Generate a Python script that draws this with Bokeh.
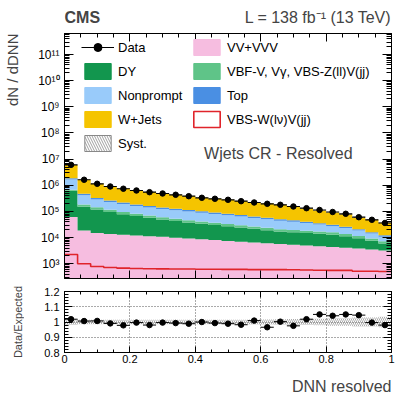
import numpy as np
from bokeh.plotting import figure
from bokeh.layouts import column, row
from bokeh.models import (FixedTicker, LinearAxis, LogAxis, Label, Legend, LegendItem,
                          CustomJSTickFormatter, Range1d)
from bokeh.embed import file_html
from bokeh.resources import INLINE

FONT = "Liberation Sans"

# ---------------- data ----------------
bin_edges = [0.00, 0.04, 0.08, 0.12, 0.16, 0.20, 0.24, 0.28, 0.32, 0.36, 0.40, 0.44, 0.48,
             0.52, 0.56, 0.60, 0.64, 0.68, 0.72, 0.76, 0.80, 0.84, 0.88, 0.92, 0.96, 1.00]

data = [6.05e6, 1.63e6, 1.143e6, 901500, 7.4e5, 634000, 545800, 486400, 434500, 383700,
        333400, 305500, 279500, 247200, 220300, 196700, 179900, 154900, 133400, 114000,
        95500, 81500, 60400, 48080, 36300]

vv_vvv = [61500, 18750, 15000, 13800, 12850, 12100, 11350, 10700, 9950, 9270, 8640, 8050,
          7500, 7000, 6500, 6100, 5700, 5300, 5000, 4700, 4400, 4100, 3850, 3500, 3200]
dy = [555500, 132300, 104100, 80900, 65200, 54500, 45900, 38700, 32950, 28700, 25200, 22100,
      19600, 17400, 15300, 13200, 11350, 10700, 10000, 9300, 8600, 7100, 5600, 4050, 2750]
vbf_v = [58000, 33900, 26700, 21300, 17500, 15000, 12900, 11050, 9600, 8500, 7600, 6750,
         6100, 5500, 4900, 4300, 3800, 3600, 3400, 3150, 2950, 2500, 2100, 1700, 1350]
nonprompt = [1008000, 231000, 141300, 114400, 97700, 80400, 71700, 64000, 58400, 53400, 48400,
             43250, 38250, 34400, 29700, 26700, 23600, 20500, 17500, 14500, 11500, 9500, 7000,
             5000, 3500]
top = [188000, 58000, 40400, 32700, 27100, 23000, 20000, 17500, 15600, 14200, 12700, 11250,
       10050, 9000, 7900, 7100, 6250, 5600, 4800, 4050, 3300, 2800, 2200, 1770, 1400]
wjets = [4070000, 1146000, 807500, 646700, 536300, 451600, 395100, 346400, 311100, 274000,
         230900, 216300, 201100, 178400, 154000, 146300, 128800, 113200, 90300, 72900, 61000,
         51650, 37050, 32250, 24850]
vbs_w = [2270, 1000, 790, 720, 680, 660, 650, 640, 630, 630, 620, 620, 610, 610, 600, 600,
         600, 590, 580, 570, 560, 560, 520, 520, 510]

syst_rel = [0.020, 0.015, 0.015, 0.015, 0.015, 0.015, 0.015, 0.015, 0.015, 0.015, 0.015, 0.015,
            0.015, 0.015, 0.017, 0.017, 0.018, 0.020, 0.020, 0.022, 0.025, 0.025, 0.030, 0.030,
            0.035]
ratio_err = [0.003, 0.003, 0.003, 0.003, 0.004, 0.004, 0.004, 0.004, 0.004, 0.005, 0.005, 0.005,
             0.005, 0.005, 0.006, 0.006, 0.006, 0.007, 0.008, 0.009, 0.010, 0.011, 0.012, 0.014,
             0.016]

x_major = [0.0, 0.2, 0.4, 0.6, 0.8, 1.0]
x_minor = [0.05, 0.10, 0.15, 0.25, 0.30, 0.35, 0.45, 0.50, 0.55, 0.65, 0.70, 0.75, 0.85, 0.90, 0.95]
y_exponents = [2, 3, 4, 5, 6, 7, 8, 9, 10, 11, 12]
r_major = [0.8, 0.9, 1.0, 1.1, 1.2]
r_minor = [0.82, 0.84, 0.86, 0.88, 0.92, 0.94, 0.96, 0.98, 1.02, 1.04, 1.06, 1.08,
           1.12, 1.14, 1.16, 1.18]

C_VV, C_DY, C_VBF, C_NP, C_TOP, C_WJ, C_SIG = ("#f6bde0", "#12964e", "#5fc488", "#99cbfa",
                                               "#4a8fe3", "#f5c400", "#e0242b")
# stack order (bottom -> top)
stack = [(vv_vvv, C_VV), (dy, C_DY), (vbf_v, C_VBF), (nonprompt, C_NP), (top, C_TOP), (wjets, C_WJ)]

left = bin_edges[:-1]
right = bin_edges[1:]
centers = [(a + b) / 2 for a, b in zip(left, right)]
nb = len(centers)

Y0, Y1 = 274, 6.35e11


def blank_fig(w, h, xr, yr):
    f = figure(width=w, height=h, x_range=Range1d(*xr), y_range=Range1d(*yr),
               min_border=0, toolbar_location=None, output_backend="svg",
               x_axis_location=None, y_axis_location=None)
    f.outline_line_color = None
    f.grid.visible = False
    f.background_fill_color = "white"
    f.border_fill_color = "white"
    return f


# ---------------- page-level text panels (frames aligned with the plot frames: x 64..391 px) ----
header = blank_fig(375, 32, (64, 391), (32, 0))
header.add_layout(Label(x=64, y=17, text="CMS", text_font=FONT, text_font_style="bold",
                        text_font_size="16px", text_align="left", text_baseline="alphabetic"))
header.add_layout(Label(x=391, y=17, text="L = 138 fb\u207b\u00b9 (13 TeV)", text_font=FONT,
                        text_font_size="16px", text_align="right", text_baseline="alphabetic"))

side = blank_fig(24, 395, (0, 24), (395, 0))
side.add_layout(Label(x=12, y=33, text="dN / dDNN", text_font=FONT, text_font_size="15px",
                      angle=np.pi / 2, text_align="right", text_baseline="middle"))
side.add_layout(Label(x=17, y=321.5, text="Data/Expected", text_font=FONT, text_font_size="11px",
                      angle=np.pi / 2, text_align="center", text_baseline="middle"))

footer = blank_fig(375, 23, (64, 391), (395, 372))
footer.add_layout(Label(x=391, y=386, text="DNN resolved", text_font=FONT, text_font_size="16px",
                        text_align="right", text_baseline="alphabetic"))

# ---------------- main panel ----------------
p = figure(width=375, height=252, x_range=(0, 1), y_range=(Y0, Y1), y_axis_type="log",
           output_backend="svg", toolbar_location=None,
           min_border_left=40, min_border_right=8, min_border_top=1, min_border_bottom=6)
p.grid.visible = False
p.outline_line_color = "black"
p.background_fill_color = "white"
p.border_fill_color = "white"

cum = [0.0] * nb
for vals, col in stack:
    lower = [max(c, 1.0) for c in cum]
    upper = [c + v for c, v in zip(cum, vals)]
    p.varea_step(x=bin_edges, y1=lower + [lower[-1]], y2=upper + [upper[-1]],
                 step_mode="after", fill_color=col)
    cum = upper
total = cum

# syst band
p.quad(left=left, right=right, bottom=[t * (1 - s) for t, s in zip(total, syst_rel)],
       top=[t * (1 + s) for t, s in zip(total, syst_rel)], fill_alpha=0, line_alpha=0,
       hatch_pattern="left_diagonal_line", hatch_color="#444444", hatch_scale=4, hatch_weight=0.7)

# signal outline
p.step(x=bin_edges, y=vbs_w + [vbs_w[-1]], mode="after", line_color=C_SIG, line_width=1.6)

# data
r_hbar = p.segment(x0=left, x1=right, y0=data, y1=data, line_color="black", line_width=1.2)
r_dot = p.scatter(x=centers, y=data, size=5.5, color="black")

# legend proxies, placed beyond the visible x range
px0 = [bin_edges[-1] + 1.0]
px1 = [bin_edges[-1] + 2.0]
py0 = [data[0]]
py1 = [data[0] * 2]
r_vbar = p.scatter(x=px0, y=py0, marker="dash", angle=np.pi / 2, size=10, line_color="black",
                   line_width=1.2)


def box(fill, line=None, lw=1.0, **kw):
    return p.quad(left=px0, right=px1, top=py1, bottom=py0, fill_color=fill,
                  line_color=line if line else fill, line_width=lw, **kw)


b_dy = box(C_DY)
b_np = box(C_NP)
b_wj = box(C_WJ)
b_sy = box("white", "#888888", 1.0, hatch_pattern="left_diagonal_line", hatch_color="#888888",
           hatch_scale=5, hatch_weight=0.8)
b_vv = box(C_VV)
b_vbf = box(C_VBF)
b_top = box(C_TOP)
b_sig = box("white", C_SIG, 1.6)


def make_legend(items, loc):
    return Legend(items=items, location=loc, orientation="vertical",
                  label_text_font=FONT, label_text_font_size="13px", label_text_color="black",
                  glyph_width=33, glyph_height=20, label_height=20, spacing=4,
                  label_standoff=4, padding=0, margin=0,
                  border_line_alpha=0, background_fill_alpha=0)


leg1 = make_legend([
    LegendItem(label="Data", renderers=[r_hbar, r_vbar, r_dot]),
    LegendItem(label="DY", renderers=[b_dy]),
    LegendItem(label="Nonprompt", renderers=[b_np]),
    LegendItem(label="W+Jets", renderers=[b_wj]),
    LegendItem(label="Syst.", renderers=[b_sy]),
], (17, 125))
leg2 = make_legend([
    LegendItem(label="VV+VVV", renderers=[b_vv]),
    LegendItem(label="VBF-V, Vγ, VBS-Z(ll)V(jj)", renderers=[b_vbf]),
    LegendItem(label="Top", renderers=[b_top]),
    LegendItem(label="VBS-W(lν)V(jj)", renderers=[b_sig]),
], (126, 149))
p.add_layout(leg1)
p.add_layout(leg2)

p.add_layout(Label(x=0.654, y=1.64e7, text="Wjets CR - Resolved", text_font=FONT,
                   text_font_size="16px", text_align="center", text_baseline="middle"))

# axes styling
log_fmt = CustomJSTickFormatter(code="""
const e = Math.round(Math.log10(tick));
const sup = {"-":"\u207b","0":"\u2070","1":"\u00b9","2":"\u00b2","3":"\u00b3","4":"\u2074",
             "5":"\u2075","6":"\u2076","7":"\u2077","8":"\u2078","9":"\u2079"};
return "10" + String(e).split("").map(c => sup[c]).join("");
""")
y_ticker = FixedTicker(ticks=[10.0 ** e for e in y_exponents],
                       minor_ticks=[m * 10.0 ** e for e in y_exponents for m in range(2, 10)])
x_ticker = FixedTicker(ticks=x_major, minor_ticks=x_minor)


def style_axis(ax, tin, tmin, labels=True, size="12px", standoff=5):
    ax.axis_line_color = "black"
    ax.major_tick_line_color = "black"
    ax.minor_tick_line_color = "black"
    ax.major_tick_in = tin
    ax.major_tick_out = 0
    ax.minor_tick_in = tmin
    ax.minor_tick_out = 0
    if labels:
        ax.major_label_text_font = FONT
        ax.major_label_text_font_size = size
        ax.major_label_text_color = "black"
        ax.major_label_standoff = standoff
    else:
        ax.major_label_text_font_size = "0px"
        ax.major_label_standoff = 0
        ax.major_label_text_alpha = 0


p.yaxis.ticker = y_ticker
p.yaxis.formatter = log_fmt
style_axis(p.yaxis[0], 9, 5, True, "12px", 5)
p.xaxis.ticker = x_ticker
style_axis(p.xaxis[0], 8, 4, False)
ax_r = LogAxis(ticker=y_ticker)
style_axis(ax_r, 9, 5, False)
p.add_layout(ax_r, "right")
ax_t = LinearAxis(ticker=x_ticker)
style_axis(ax_t, 8, 4, False)
p.add_layout(ax_t, "above")

# ---------------- ratio panel ----------------
ratio = [d / t for d, t in zip(data, total)]

q = figure(width=375, height=88, x_range=(0, 1), y_range=(0.8, 1.2),
           output_backend="svg", toolbar_location=None,
           min_border_left=40, min_border_right=8, min_border_top=7, min_border_bottom=20)
q.outline_line_color = "black"
q.background_fill_color = "white"
q.border_fill_color = "white"
q.xgrid.ticker = FixedTicker(ticks=x_major)
q.ygrid.ticker = FixedTicker(ticks=r_major)
q.grid.grid_line_color = "#555555"
q.grid.grid_line_dash = "1 2"
q.grid.grid_line_width = 1

q.quad(left=left, right=right, bottom=[1 - s for s in syst_rel], top=[1 + s for s in syst_rel],
       fill_alpha=0, line_alpha=0, hatch_pattern="left_diagonal_line", hatch_color="#888888",
       hatch_scale=4, hatch_weight=0.7)
q.segment(x0=left, x1=right, y0=ratio, y1=ratio, line_color="black", line_width=1.0)
q.segment(x0=centers, x1=centers, y0=[r - e for r, e in zip(ratio, ratio_err)],
          y1=[r + e for r, e in zip(ratio, ratio_err)], line_color="black", line_width=1.0)
q.scatter(x=centers, y=ratio, size=5.5, color="black")

lin_fmt = CustomJSTickFormatter(code="return String(Math.round(tick*10)/10);")
q.xaxis.ticker = x_ticker
q.xaxis.formatter = lin_fmt
style_axis(q.xaxis[0], 6, 3, True, "11px", 2)
q.yaxis.ticker = FixedTicker(ticks=r_major, minor_ticks=r_minor)
q.yaxis.formatter = lin_fmt
style_axis(q.yaxis[0], 8, 4, True, "11px", 5)
qa_r = LinearAxis(ticker=FixedTicker(ticks=r_major, minor_ticks=r_minor))
style_axis(qa_r, 8, 4, False)
q.add_layout(qa_r, "right")
qa_t = LinearAxis(ticker=x_ticker)
style_axis(qa_t, 6, 3, False)
q.add_layout(qa_t, "above")

layout = row(side, column(header, p, q, footer, spacing=0), spacing=0)
open("out.html", "w").write(file_html(layout, INLINE))
